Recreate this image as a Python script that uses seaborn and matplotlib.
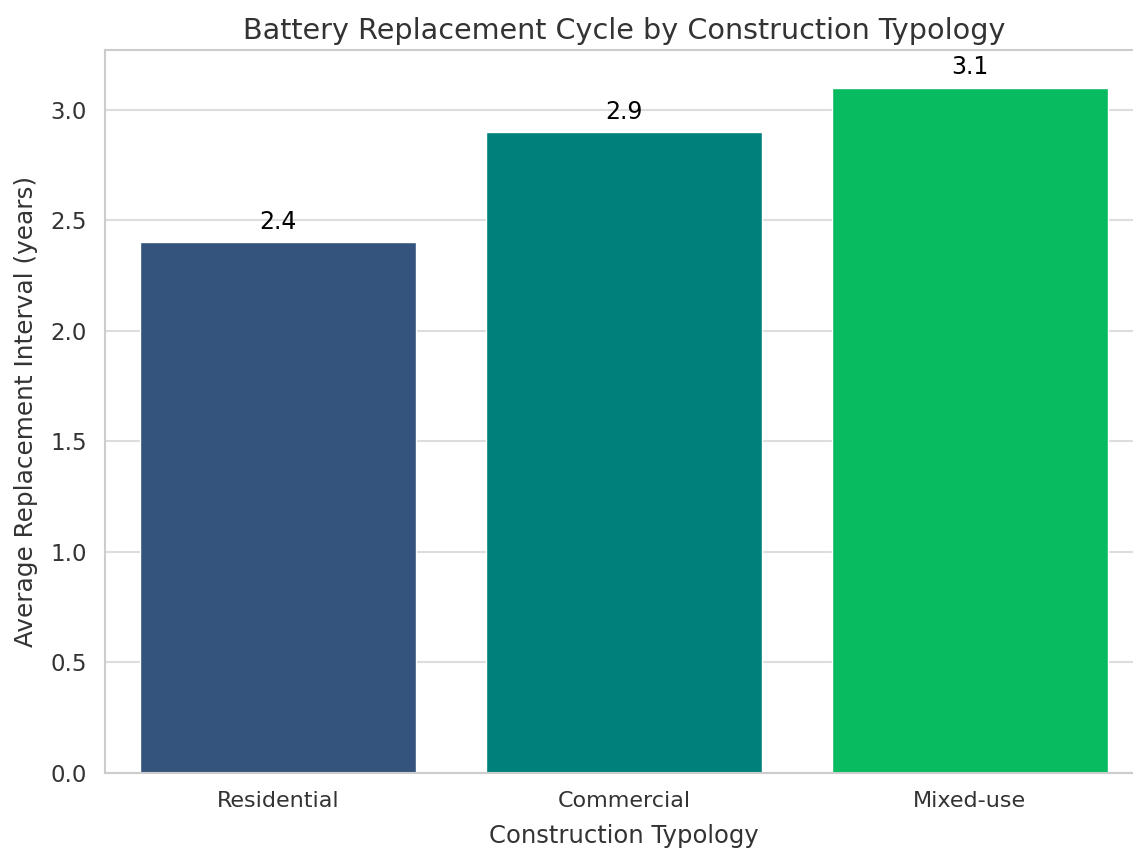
import pandas as pd
import seaborn as sns
import matplotlib.pyplot as plt

# --- data ---
typologies = ['Residential', 'Commercial', 'Mixed-use']
replacement_years = [2.4, 2.9, 3.1]
bar_colors = ['#34537d', '#00807a', '#08ba60']

df = pd.DataFrame({'Construction Typology': typologies,
                   'Average Replacement Interval (years)': replacement_years})

sns.set_theme(style="whitegrid")

fig = plt.figure(figsize=(11.33, 8.48), dpi=100)
# the reference is cropped a little on the right and bottom
ax = fig.add_axes([0.0927, 0.0884, 0.916, 0.8526])

sns.barplot(data=df, x='Construction Typology',
            y='Average Replacement Interval (years)',
            hue='Construction Typology', palette=bar_colors,
            legend=False, saturation=1, ax=ax)

for container in ax.containers:
    ax.bar_label(container, fmt='%.1f', padding=6, fontsize=17, color='black')

ax.set_ylim(0, 3.27)
ax.set_title('Battery Replacement Cycle by Construction Typology',
             fontsize=20.6, color='#333333', pad=8)
ax.set_xlabel('Construction Typology', fontsize=17.5, color='#333333', labelpad=9)
ax.set_ylabel('Average Replacement Interval (years)', fontsize=17.8,
              color='#333333', labelpad=9)
ax.tick_params(axis='x', labelsize=16, colors='#333333', pad=7)
ax.tick_params(axis='y', labelsize=16.5, colors='#333333', pad=7)
ax.xaxis.grid(False)
for s in ax.spines.values():
    s.set_color('#cccccc')
    s.set_linewidth(1.5)
ax.yaxis.grid(True, color='#dddddd', linewidth=1.5)

fig.savefig('out.png', dpi=100)
